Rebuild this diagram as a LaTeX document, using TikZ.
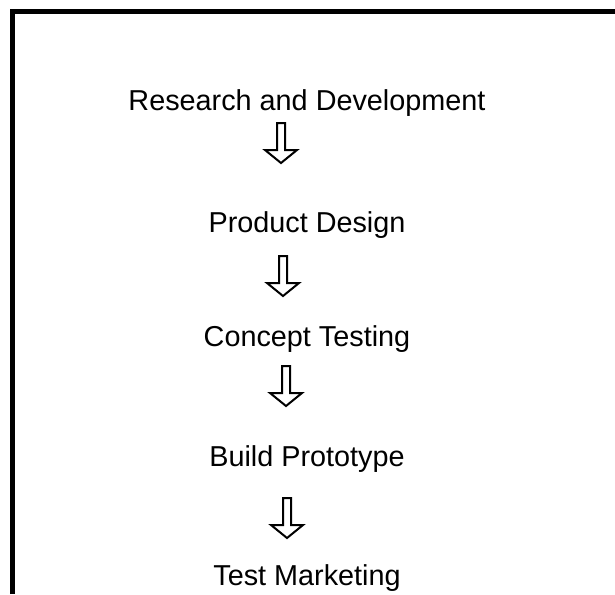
\documentclass[tikz,border=0pt]{standalone}
\usepackage{fontspec}
\setmainfont{Liberation Sans}
\begin{document}
\begin{tikzpicture}[x=1pt,y=-1pt,
    step label/.style={anchor=base,inner sep=0pt,font=\fontsize{28.8}{32}\selectfont},
    hollowdown/.pic={
        \draw[line width=2pt,line join=miter]
            (-4,0) -- (-4,27) -- (-16,27) -- (0,40) -- (16,27) -- (4,27) -- (4,0) -- cycle;
    }]
\useasboundingbox (0,0) rectangle (615,594);
\draw[line width=5pt] (12,594) -- (12,11.5) -- (615,11.5);
\node[step label] (rd) at (307,110) {Research and Development};
\node[step label] (pd) at (307,232) {Product Design};
\node[step label] (ct) at (307,346) {Concept Testing};
\node[step label] (bp) at (307,466) {Build Prototype};
\node[step label] (tm) at (307,585) {Test Marketing};
\pic at (281,123) {hollowdown};
\pic at (283,256) {hollowdown};
\pic at (286,366) {hollowdown};
\pic at (287,498) {hollowdown};
\end{tikzpicture}
\end{document}
